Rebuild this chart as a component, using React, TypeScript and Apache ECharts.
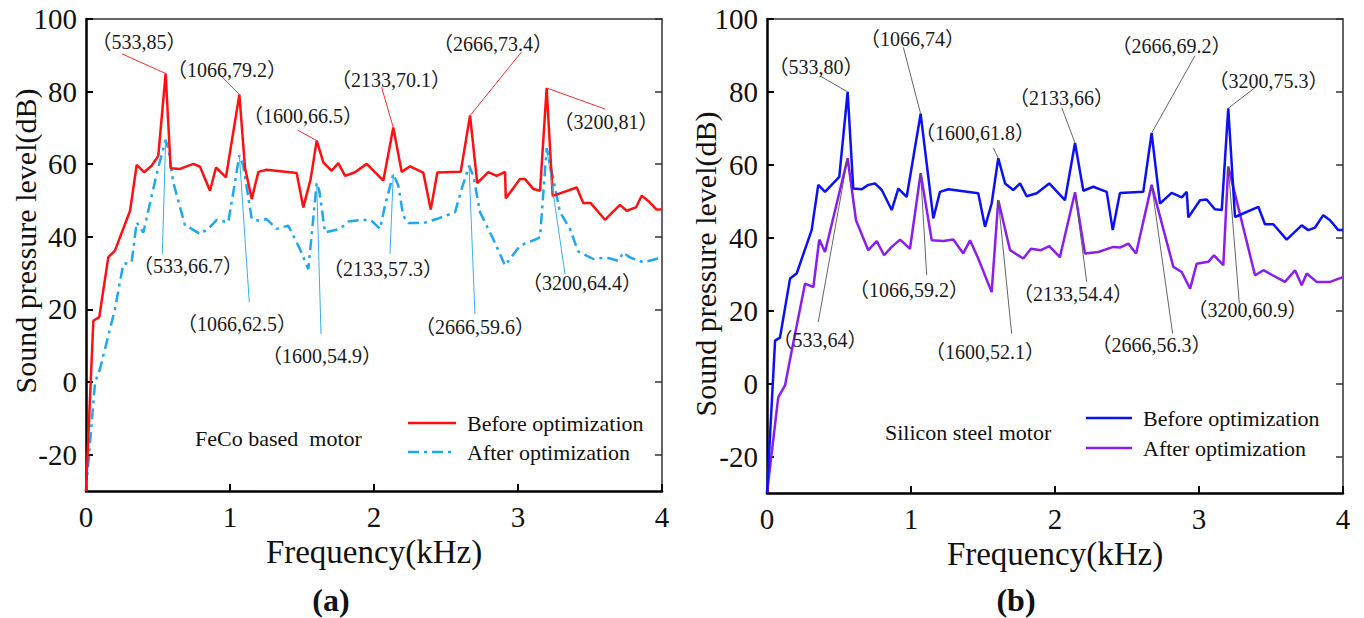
import React, { useEffect, useRef } from "react";
import * as echarts from "echarts";

const FONT = '"Liberation Serif", "Times New Roman", "Noto Sans CJK SC", serif';

// ---------- Panel (a): FeCo based motor ----------
const aBeforeFreq = [0, 0.051, 0.092, 0.155, 0.201, 0.306, 0.352, 0.403, 0.456, 0.502, 0.553, 0.588, 0.653, 0.745, 0.792, 0.861, 0.903, 0.972, 1.065, 1.104, 1.151, 1.197, 1.255, 1.463, 1.509, 1.56, 1.602, 1.648, 1.706, 1.752, 1.799, 1.868, 1.949, 2.065, 2.134, 2.192, 2.25, 2.342, 2.394, 2.44, 2.602, 2.667, 2.717, 2.794, 2.852, 2.91, 2.915, 3.014, 3.049, 3.106, 3.153, 3.199, 3.241, 3.408, 3.453, 3.505, 3.604, 3.708, 3.755, 3.819, 3.859, 3.905, 3.963, 4.0];
const aBeforeLevel = [-30, 16.9, 17.9, 34.4, 36.2, 47.2, 59.8, 57.8, 59.6, 62.3, 85, 58.9, 58.7, 60.1, 59.3, 52.7, 59.1, 56.4, 79.2, 59.1, 50.4, 57.9, 58.5, 57.6, 48.1, 55.9, 66.5, 60.5, 58.2, 60.3, 56.8, 57.8, 60.1, 55.5, 70.1, 57.9, 59.4, 57.7, 47.5, 57.7, 57.9, 73.4, 54.8, 57.8, 56.8, 57.9, 50.6, 55.9, 55.9, 53.2, 52.7, 81, 51.3, 53.6, 49.3, 49.3, 44.7, 48.8, 47.2, 48.1, 51.3, 49.9, 47.5, 47.5];

const aAfterFreq = [0, 0.063, 0.097, 0.201, 0.259, 0.317, 0.352, 0.398, 0.467, 0.502, 0.553, 0.572, 0.606, 0.688, 0.717, 0.792, 0.849, 0.908, 0.988, 1.023, 1.065, 1.092, 1.151, 1.208, 1.255, 1.324, 1.405, 1.486, 1.544, 1.602, 1.62, 1.66, 1.764, 1.822, 1.926, 1.984, 2.042, 2.076, 2.134, 2.169, 2.203, 2.238, 2.342, 2.435, 2.563, 2.609, 2.66, 2.69, 2.736, 2.828, 2.91, 3.014, 3.13, 3.153, 3.199, 3.245, 3.292, 3.361, 3.417, 3.523, 3.616, 3.697, 3.731, 3.778, 3.87, 4.0];
const aAfterLevel = [-30, 0, 3.6, 20.1, 32.5, 33, 44, 41.2, 53.2, 59.1, 66.7, 64.2, 55, 43.1, 42.6, 40.8, 42.2, 44.7, 44, 52.3, 62.5, 59.6, 44.9, 44.4, 44.9, 42.2, 43.1, 36.6, 31.1, 54.9, 52.7, 41.2, 42.2, 44.2, 44.7, 44.4, 42.2, 48.6, 57.3, 54.1, 45.8, 43.8, 43.8, 44.9, 46.8, 53.2, 59.6, 56.8, 46.8, 39.4, 32.1, 37.6, 39.4, 39.9, 64.4, 55.9, 46.8, 42.2, 36, 33.9, 34.3, 33.4, 35.7, 34.3, 33, 34.3];

// ---------- Panel (b): Silicon steel motor ----------
const bBeforeFreq = [0, 0.056, 0.09, 0.16, 0.206, 0.31, 0.356, 0.403, 0.449, 0.502, 0.56, 0.599, 0.658, 0.703, 0.75, 0.797, 0.866, 0.912, 0.97, 1.067, 1.155, 1.201, 1.259, 1.467, 1.514, 1.56, 1.606, 1.653, 1.71, 1.757, 1.803, 1.873, 1.96, 2.069, 2.139, 2.197, 2.266, 2.359, 2.401, 2.451, 2.613, 2.671, 2.729, 2.81, 2.88, 2.915, 2.926, 3.007, 3.053, 3.111, 3.158, 3.203, 3.25, 3.412, 3.458, 3.516, 3.609, 3.713, 3.759, 3.806, 3.863, 3.91, 3.967, 4.0];
const bBeforeLevel = [-30, 11.8, 12.6, 28.8, 30.2, 42.1, 54.5, 52.6, 54.5, 56.7, 80, 53.5, 53.3, 54.5, 54.9, 53.1, 47.6, 53.5, 51.2, 74, 45.3, 52.6, 53.3, 52.2, 43, 49.4, 61.8, 54.9, 53.1, 54.9, 51.4, 52.2, 54.9, 50.3, 66, 52.9, 54, 52.6, 42.1, 52.3, 52.6, 68.7, 49.4, 52.3, 51.1, 52.6, 45.6, 50.3, 50.5, 47.8, 47.6, 75.5, 45.7, 48.5, 43.7, 43.7, 39.5, 43.4, 42.1, 42.8, 46.2, 44.8, 42.1, 42.1];

const bAfterFreq = [0, 0.078, 0.125, 0.172, 0.264, 0.322, 0.363, 0.403, 0.56, 0.618, 0.703, 0.762, 0.813, 0.866, 0.924, 0.993, 1.067, 1.144, 1.224, 1.294, 1.363, 1.41, 1.467, 1.56, 1.606, 1.688, 1.78, 1.833, 1.903, 1.96, 2.034, 2.139, 2.208, 2.301, 2.405, 2.451, 2.509, 2.563, 2.671, 2.822, 2.88, 2.938, 2.984, 3.065, 3.104, 3.169, 3.203, 3.389, 3.447, 3.597, 3.667, 3.713, 3.748, 3.817, 3.91, 4.0];
const bAfterLevel = [-30, -3.8, -0.5, 9.1, 27.4, 26.5, 39.5, 36.1, 61.8, 44.8, 36.6, 39.1, 35.2, 37.5, 39.5, 37, 57.7, 39.3, 39.1, 39.5, 35.7, 39.3, 34.3, 25.1, 50.3, 36.6, 34.3, 37, 36.6, 37.7, 34.7, 52.5, 35.7, 36.1, 37.5, 37.3, 38.4, 35.7, 54.5, 32, 30.6, 26, 32.9, 33.4, 35.2, 32.5, 59.5, 29.7, 31.1, 27.9, 31.1, 27, 30.2, 27.9, 27.9, 29.2];

// ---------- Axis ticks ----------
const yTicks = [-20, 0, 20, 40, 60, 80, 100];
const xTickInterval = 1;

// ---------- Peak annotations: [text, peakFreq, peakLevel, leaderEndFreq, leaderEndLevel, textFreq, textLevel] ----------
const aBeforeNotes: [string, number, number, number, number, number, number][] = [
  ["（533,85）", 0.553, 85, 0.25, 90.4, 0.368, 93.7],
  ["（1066,79.2）", 1.065, 79.2, 0.942, 84.2, 0.979, 86.0],
  ["（1600,66.5）", 1.602, 66.5, 1.47, 69.4, 1.507, 73.3],
  ["（2133,70.1）", 2.134, 70.1, 2.053, 81.2, 2.118, 83.3],
  ["（2666,73.4）", 2.667, 73.4, 3.026, 91.0, 2.826, 93.1],
  ["（3200,81）", 3.199, 81, 3.604, 75.2, 3.611, 71.5],
];
const aAfterNotes: [string, number, number, number, number, number, number][] = [
  ["（533,66.7）", 0.553, 66.7, 0.53, 35.3, 0.708, 32.0],
  ["（1066,62.5）", 1.065, 62.5, 1.134, 22.0, 1.049, 16.0],
  ["（1600,54.9）", 1.602, 54.9, 1.632, 13.2, 1.639, 7.2],
  ["（2133,57.3）", 2.134, 57.3, 2.111, 35.3, 2.063, 31.1],
  ["（2666,59.6）", 2.66, 59.6, 2.701, 18.7, 2.701, 15.3],
  ["（3200,64.4）", 3.199, 64.4, 3.326, 29.8, 3.444, 27.2],
];
const bBeforeNotes: [string, number, number, number, number, number, number][] = [
  ["（533,80）", 0.56, 80, 0.368, 84.4, 0.34, 86.7],
  ["（1066,74）", 1.067, 74, 0.947, 92.2, 1.01, 94.5],
  ["（1600,61.8）", 1.606, 61.8, 1.572, 64.7, 1.444, 68.8],
  ["（2133,66）", 2.139, 66, 2.047, 75.7, 2.045, 78.4],
  ["（2666,69.2）", 2.671, 68.7, 2.972, 89.9, 2.809, 92.6],
  ["（3200,75.3）", 3.203, 75.5, 3.389, 81.2, 3.483, 83.0],
];
const bAfterNotes: [string, number, number, number, number, number, number][] = [
  ["（533,64）", 0.56, 61.8, 0.356, 16.9, 0.368, 12.0],
  ["（1066,59.2）", 1.067, 57.7, 1.109, 29.8, 0.986, 25.6],
  ["（1600,52.1）", 1.606, 50.3, 1.699, 13.7, 1.514, 8.6],
  ["（2133,54.4）", 2.139, 52.5, 2.22, 27.9, 2.125, 24.7],
  ["（2666,56.3）", 2.671, 54.5, 2.817, 13.7, 2.67, 10.5],
  ["（3200,60.9）", 3.203, 59.5, 3.28, 22.0, 3.337, 20.1],
];

const COLORS = {
  aBefore: "#ff1010",
  aAfter: "#1ea7f2",
  bBefore: "#0a12f5",
  bAfter: "#8a1ef0",
  aBeforeLeader: "#ff2a2a",
  aAfterLeader: "#38aef0",
  bLeader: "#555555",
};
const DASH_DOT = [11, 5, 3, 5];

function zip(f: number[], v: number[]) {
  return f.map((x, i) => [x, v[i]]);
}

function makeNotes(notes: [string, number, number, number, number, number, number][], leaderColor: string, leaderWidth: number) {
  return {
    markLine: {
      silent: true,
      symbol: ["none", "none"],
      label: { show: false },
      lineStyle: { color: leaderColor, width: leaderWidth, type: "solid" },
      emphasis: { disabled: true },
      data: notes.map((n) => [{ coord: [n[1], n[2]] }, { coord: [n[3], n[4]] }]),
    },
    markPoint: {
      silent: true,
      symbol: "circle",
      symbolSize: 1,
      itemStyle: { color: "rgba(0,0,0,0)" },
      label: {
        show: true,
        position: "inside",
        formatter: "{b}",
        color: "#1a1a1a",
        fontSize: 20,
        fontFamily: FONT,
        align: "center",
        verticalAlign: "middle",
      },
      data: notes.map((n) => ({ name: n[0], coord: [n[5], n[6]] })),
    },
  };
}

function axesFor(gridIndex: number) {
  const xs = [
    {
      type: "value",
      gridIndex,
      min: 0,
      max: 4,
      interval: xTickInterval,
      position: "bottom",
      axisLine: { show: true, onZero: false, lineStyle: { color: "#000", width: 2.5 } },
      axisTick: { show: true, inside: true, length: 7, lineStyle: { color: "#000", width: 2 } },
      axisLabel: { margin: 11, fontSize: 29, color: "#111", fontFamily: FONT, showMinLabel: true, showMaxLabel: true },
      splitLine: { show: false },
      name: "Frequency(kHz)",
      nameLocation: "middle",
      nameGap: gridIndex === 0 ? 42 : 40,
      nameTextStyle: { fontSize: 33, fontFamily: FONT, color: "#111" },
    },
    {
      type: "value",
      gridIndex,
      min: 0,
      max: 4,
      interval: xTickInterval,
      position: "top",
      axisLine: { show: true, onZero: false, lineStyle: { color: "#333", width: 1.5 } },
      axisTick: { show: false },
      axisLabel: { show: false },
      splitLine: { show: false },
    },
  ];
  const ys = [
    {
      type: "value",
      gridIndex,
      min: -30,
      max: 100,
      position: "left",
      axisLine: { show: true, onZero: false, lineStyle: { color: "#000", width: 2.5 } },
      axisTick: { show: true, inside: true, length: 7, customValues: yTicks, lineStyle: { color: "#000", width: 2 } },
      axisLabel: { customValues: yTicks, margin: 9, fontSize: 29, color: "#111", fontFamily: FONT },
      splitLine: { show: false },
    },
    {
      type: "value",
      gridIndex,
      min: -30,
      max: 100,
      position: "right",
      axisLine: { show: true, onZero: false, lineStyle: { color: "#333", width: 1.5 } },
      axisTick: { show: true, inside: true, length: 7, customValues: yTicks, lineStyle: { color: "#333", width: 1.5 } },
      axisLabel: { show: false },
      splitLine: { show: false },
    },
  ];
  return { xs, ys };
}

function legendGraphic(x1: number, x2: number, yB: number, yA: number, textX: number, cB: string, cA: string, dashA: any) {
  return [
    { type: "line", shape: { x1, y1: yB, x2, y2: yB }, style: { stroke: cB, lineWidth: 2.5 } },
    { type: "line", shape: { x1, y1: yA, x2, y2: yA }, style: { stroke: cA, lineWidth: 2.5, lineDash: dashA } },
    { type: "text", x: textX, y: yB, style: { text: "Before optimization", font: `22px ${FONT}`, fill: "#111", align: "left", verticalAlign: "middle" } },
    { type: "text", x: textX, y: yA, style: { text: "After optimization", font: `22px ${FONT}`, fill: "#111", align: "left", verticalAlign: "middle" } },
  ];
}

export default function App() {
  const ref = useRef<HTMLDivElement>(null);

  useEffect(() => {
    if (!ref.current) return;
    const chart = echarts.init(ref.current, null, { renderer: "svg" });
    const a = axesFor(0);
    const b = axesFor(1);

    const option: any = {
      animation: false,
      backgroundColor: "#ffffff",
      grid: [
        { left: 86, top: 19, width: 576, height: 472 },
        { left: 767, top: 19, width: 576, height: 474 },
      ],
      xAxis: [...a.xs, ...b.xs],
      yAxis: [...a.ys, ...b.ys],
      series: [
        {
          type: "line",
          name: "Before optimization",
          xAxisIndex: 0,
          yAxisIndex: 0,
          data: zip(aBeforeFreq, aBeforeLevel),
          showSymbol: false,
          symbol: "none",
          lineStyle: { color: COLORS.aBefore, width: 2.5 },
          itemStyle: { color: COLORS.aBefore },
          z: 3,
          ...makeNotes(aBeforeNotes, COLORS.aBeforeLeader, 1),
        },
        {
          type: "line",
          name: "After optimization",
          xAxisIndex: 0,
          yAxisIndex: 0,
          data: zip(aAfterFreq, aAfterLevel),
          showSymbol: false,
          symbol: "none",
          lineStyle: { color: COLORS.aAfter, width: 2.5, type: DASH_DOT },
          itemStyle: { color: COLORS.aAfter },
          z: 2,
          ...makeNotes(aAfterNotes, COLORS.aAfterLeader, 1),
        },
        {
          type: "line",
          name: "Before optimization",
          xAxisIndex: 2,
          yAxisIndex: 2,
          data: zip(bBeforeFreq, bBeforeLevel),
          showSymbol: false,
          symbol: "none",
          lineStyle: { color: COLORS.bBefore, width: 2.5 },
          itemStyle: { color: COLORS.bBefore },
          z: 3,
          ...makeNotes(bBeforeNotes, COLORS.bLeader, 0.9),
        },
        {
          type: "line",
          name: "After optimization",
          xAxisIndex: 2,
          yAxisIndex: 2,
          data: zip(bAfterFreq, bAfterLevel),
          showSymbol: false,
          symbol: "none",
          lineStyle: { color: COLORS.bAfter, width: 2.5 },
          itemStyle: { color: COLORS.bAfter },
          z: 2,
          ...makeNotes(bAfterNotes, COLORS.bLeader, 0.9),
        },
      ],
      graphic: [
        {
          type: "text",
          x: 25,
          y: 241,
          rotation: Math.PI / 2,
          style: { text: "Sound pressure level(dB)", font: `30px ${FONT}`, fill: "#111", align: "center", verticalAlign: "middle" },
        },
        {
          type: "text",
          x: 705,
          y: 264,
          rotation: Math.PI / 2,
          style: { text: "Sound pressure level(dB)", font: `30px ${FONT}`, fill: "#111", align: "center", verticalAlign: "middle" },
        },
        { type: "text", x: 195, y: 438, style: { text: "FeCo based  motor", font: `22px ${FONT}`, fill: "#111", align: "left", verticalAlign: "middle" } },
        { type: "text", x: 885, y: 432, style: { text: "Silicon steel motor", font: `22px ${FONT}`, fill: "#111", align: "left", verticalAlign: "middle" } },
        ...legendGraphic(408, 456, 423, 452, 467, COLORS.aBefore, COLORS.aAfter, DASH_DOT),
        ...legendGraphic(1086, 1132, 418, 448, 1143, COLORS.bBefore, COLORS.bAfter, null),
        { type: "text", x: 331, y: 600, style: { text: "(a)", font: `bold 32px ${FONT}`, fill: "#111", align: "center", verticalAlign: "middle" } },
        { type: "text", x: 1016, y: 600, style: { text: "(b)", font: `bold 32px ${FONT}`, fill: "#111", align: "center", verticalAlign: "middle" } },
      ],
    };
    chart.setOption(option);
    return () => chart.dispose();
  }, []);

  return (
    <div
      ref={ref}
      style={{ position: "absolute", left: 0, top: 0, width: 1364, height: 618, background: "#fff" }}
    />
  );
}
